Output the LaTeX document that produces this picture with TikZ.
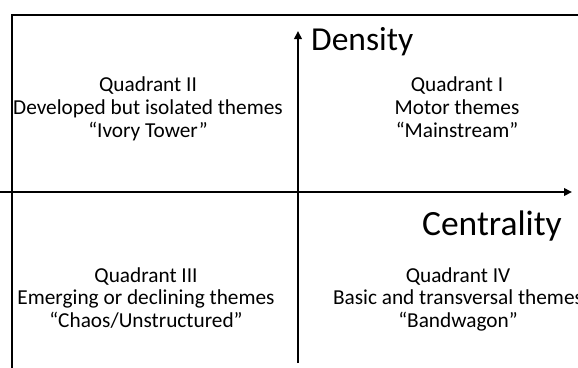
\documentclass[tikz,border=0pt]{standalone}
\usepackage{fontspec}
\setmainfont{Carlito}
\usetikzlibrary{arrows.meta}
\begin{document}
\begin{tikzpicture}[x=1pt,y=-1pt,
  qtext/.style={anchor=base,inner sep=0pt,font=\fontsize{21.3}{23}\selectfont},
  axislabel/.style={inner sep=0pt,font=\fontsize{34}{40}\selectfont},
  axisline/.style={line width=2pt,-{Triangle[length=8pt,width=7.5pt]}},
  frameline/.style={line width=2pt}]
\useasboundingbox (0,0) rectangle (578,367);
% frame
\coordinate (ftr) at (580,15);
\coordinate (ftl) at (11.5,15);
\coordinate (fbl) at (11.5,369);
\draw[frameline] (ftr) -- (ftl) -- (fbl);
% axes
\coordinate (xs) at (-2,192);
\coordinate (xe) at (572,192);
\coordinate (ys) at (298,363);
\coordinate (ye) at (298,31);
\draw[axisline] (xs) -- (xe);
\draw[axisline] (ys) -- (ye);
% axis labels
\node[axislabel,anchor=base west,font=\fontsize{33.5}{40}\selectfont] (dens) at (311,50) {Density};
\node[axislabel,anchor=base east,font=\fontsize{35.5}{40}\selectfont] (cent) at (562,235) {Centrality};
% Quadrant II
\node[qtext] (q2a) at (148,91) {Quadrant II};
\node[qtext] (q2b) at (148,114) {Developed but isolated themes};
\node[qtext] (q2c) at (148,137) {“Ivory Tower”};
% Quadrant I
\node[qtext] (q1a) at (457,91) {Quadrant I};
\node[qtext] (q1b) at (457,114) {Motor themes};
\node[qtext] (q1c) at (457,137) {“Mainstream”};
% Quadrant III
\node[qtext] (q3a) at (146,282) {Quadrant III};
\node[qtext] (q3b) at (146,304) {Emerging or declining themes};
\node[qtext] (q3c) at (146,327) {“Chaos/Unstructured”};
% Quadrant IV
\node[qtext] (q4a) at (458,282) {Quadrant IV};
\node[qtext] (q4b) at (458,304) {Basic and transversal themes};
\node[qtext] (q4c) at (458,327) {“Bandwagon”};
\end{tikzpicture}
\end{document}
